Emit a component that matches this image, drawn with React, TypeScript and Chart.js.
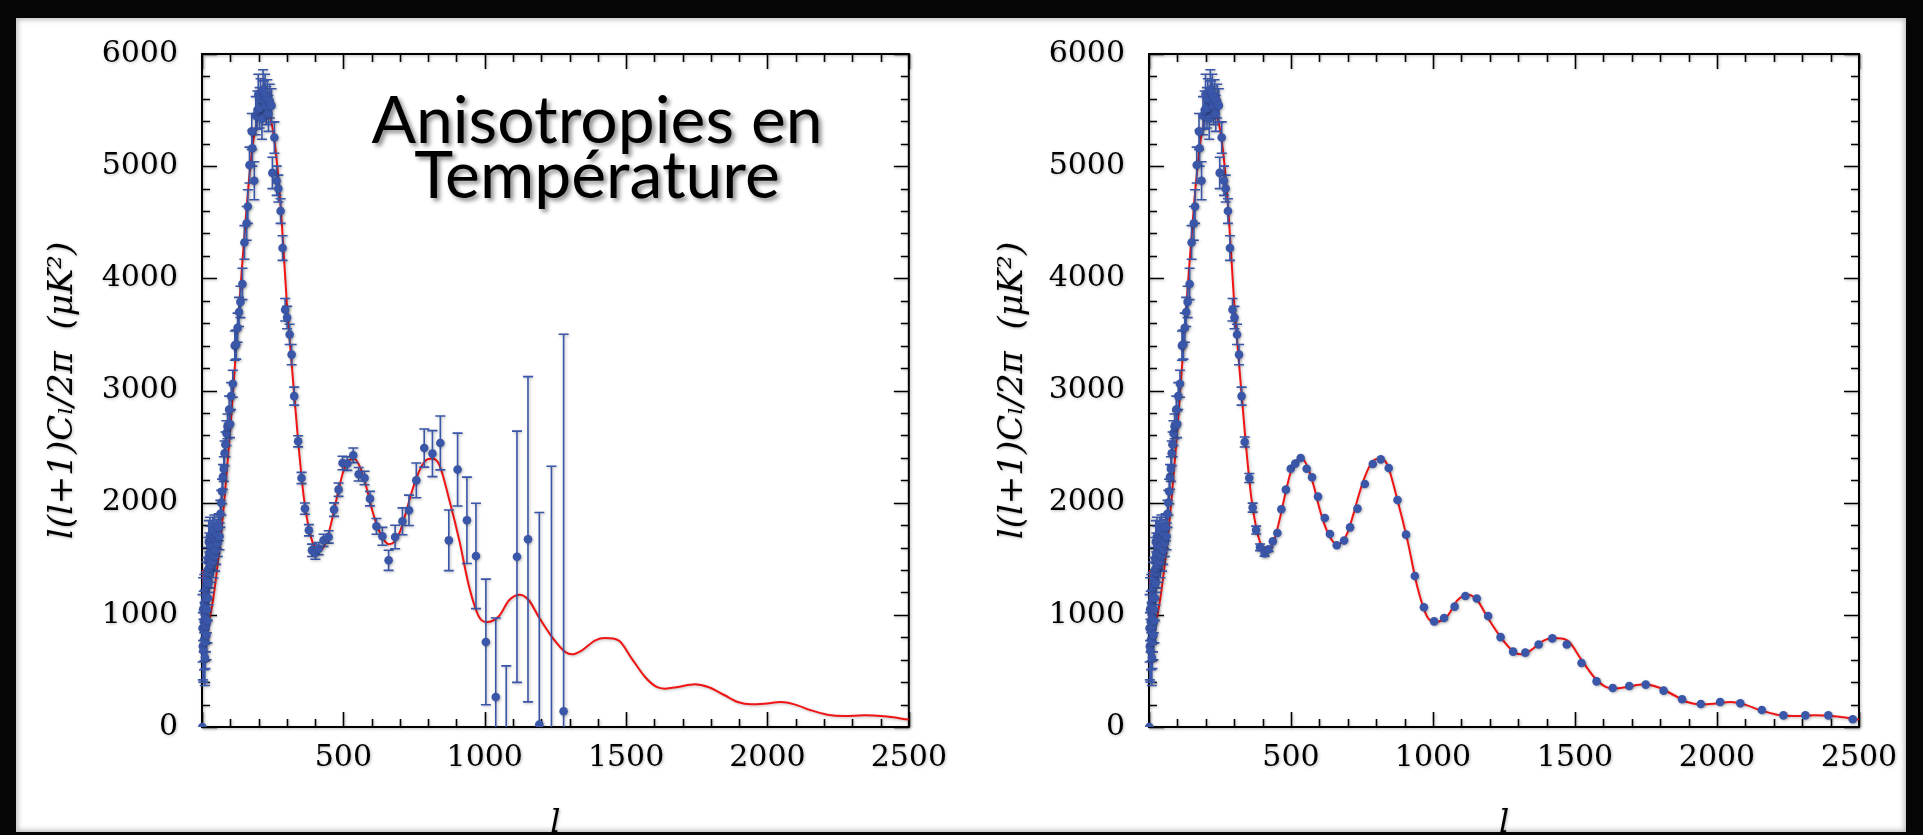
import React, { useEffect, useRef } from "react";
import { Chart, registerables } from "chart.js";

Chart.register(...registerables);

// ---------- axes ----------
const X_MIN = 0;
const X_MAX = 2500;
const Y_MIN = 0;
const Y_MAX = 6000;
const X_STEP = 100;
const Y_STEP = 200;
const X_LABEL_EVERY = 500;
const Y_LABEL_EVERY = 1000;

// ---------- texts ----------
const TITLE_LINES = ["Anisotropies en", "Température"];
const Y_TITLE = "l(l+1)Cₗ/2π  (μK²)";
const X_TITLE = "l";

// ---------- model curve (red) ----------
const MODEL_L = [2, 4, 8, 15, 25, 40, 60, 80, 100, 120, 140, 160, 180, 200, 220, 240, 260, 280, 300, 320, 340, 360, 380, 400, 420, 440, 460, 480, 500, 520, 540, 560, 580, 600, 620, 640, 660, 680, 700, 720, 740, 760, 780, 800, 815, 840, 875, 910, 945, 980, 1009, 1050, 1086, 1123, 1156, 1191, 1238, 1285, 1309, 1344, 1391, 1426, 1473, 1520, 1567, 1608, 1637, 1684, 1743, 1790, 1849, 1895, 1942, 1989, 2048, 2095, 2154, 2212, 2271, 2342, 2412, 2500];
const MODEL_V = [1400, 1150, 980, 900, 950, 1150, 1550, 2050, 2650, 3350, 4050, 4700, 5200, 5450, 5520, 5450, 5150, 4580, 3780, 3150, 2550, 2050, 1750, 1600, 1580, 1660, 1850, 2080, 2280, 2380, 2390, 2310, 2150, 1950, 1790, 1680, 1630, 1650, 1740, 1900, 2080, 2230, 2340, 2390, 2393, 2333, 2021, 1664, 1248, 981, 936, 987, 1130, 1180, 1130, 981, 802, 669, 648, 684, 773, 793, 773, 610, 446, 357, 342, 357, 381, 357, 283, 223, 202, 208, 223, 202, 149, 110, 98, 104, 95, 66];

// ---------- low-l measurements (both panels) ----------
const LOW_L = [1, 2, 3, 4, 5, 6, 7, 8, 9, 10, 11, 12, 13, 14, 15, 16, 17, 18, 19, 20, 21, 22, 23, 24, 25, 26, 27, 28, 29, 30, 32, 34, 36, 38, 40, 42, 44, 46, 48, 50, 53, 56, 59, 62, 65, 68, 71, 74, 77, 80, 83, 86, 90, 96, 99, 103, 109, 116, 121, 126, 131, 136, 143, 150, 158, 162, 168, 176, 178, 185, 190, 196, 199, 204, 207, 212, 216, 219, 223, 227, 231, 235, 240, 246, 249, 256, 264, 270, 278, 285, 294, 301, 310, 317, 326];
const LOW_V = [0, 880, 720, 1050, 680, 940, 780, 1100, 850, 620, 980, 760, 1150, 900, 1250, 820, 1050, 1300, 950, 1400, 1150, 1500, 1280, 1650, 1380, 1550, 1420, 1700, 1500, 1620, 1450, 1680, 1550, 1720, 1480, 1620, 1750, 1530, 1680, 1580, 1720, 1640, 1780, 1700, 1900, 2000, 2100, 2230, 2300, 2440, 2520, 2620, 2680, 2830, 2700, 2950, 3060, 3400, 3410, 3560, 3700, 3790, 3950, 4320, 4490, 4640, 5010, 5310, 5160, 4870, 5450, 5500, 5640, 5520, 5600, 5420, 5680, 5590, 5650, 5540, 5610, 5470, 5580, 5540, 4940, 5255, 4870, 4800, 4600, 4270, 3720, 3650, 3500, 3320, 2950];
const LOW_E = [0, 300, 300, 280, 280, 270, 270, 260, 260, 250, 240, 240, 230, 230, 220, 220, 210, 210, 200, 200, 200, 190, 190, 190, 180, 180, 180, 170, 170, 170, 160, 160, 150, 150, 150, 140, 140, 140, 130, 130, 130, 120, 120, 120, 120, 110, 110, 110, 110, 110, 110, 110, 110, 120, 120, 120, 120, 130, 130, 130, 130, 140, 140, 150, 150, 150, 160, 160, 160, 170, 170, 170, 180, 180, 180, 180, 180, 170, 170, 170, 160, 160, 150, 150, 140, 140, 130, 120, 110, 110, 100, 100, 90, 90, 80];

// ---------- left panel: higher-l measurements ----------
const WMAP_L = [340, 352, 364, 378, 389, 401, 413, 430, 448, 467, 483, 497, 514, 535, 554, 575, 594, 617, 638, 660, 683, 709, 732, 758, 786, 815, 843, 873, 904, 937, 969, 1004, 1039, 1076, 1114, 1153, 1193, 1236, 1279];
const WMAP_V = [2547, 2220, 1947, 1754, 1575, 1551, 1590, 1664, 1694, 1938, 2116, 2354, 2348, 2422, 2253, 2220, 2036, 1789, 1700, 1486, 1694, 1834, 1932, 2199, 2487, 2437, 2532, 1664, 2295, 1843, 1525, 758, 267, -200, 1518, 1674, 22, -300, 141];
const WMAP_E = [50, 50, 50, 50, 55, 55, 55, 55, 55, 60, 60, 60, 60, 65, 60, 60, 65, 70, 80, 90, 105, 120, 135, 155, 170, 205, 240, 270, 325, 385, 470, 560, 705, 745, 1120, 1450, 1890, 2625, 3360];

// ---------- right panel: higher-l measurements ----------
const PLANCK_L = [337, 353, 365, 377, 391, 407, 421, 436, 452, 466, 482, 499, 515, 534, 555, 574, 595, 619, 637, 661, 687, 708, 734, 760, 788, 816, 844, 875, 905, 936, 968, 1004, 1039, 1076, 1114, 1154, 1194, 1238, 1282, 1325, 1372, 1420, 1471, 1523, 1576, 1633, 1691, 1749, 1812, 1877, 1943, 2011, 2082, 2158, 2234, 2311, 2392, 2478];
const PLANCK_V = [2541, 2220, 1956, 1756, 1602, 1548, 1584, 1655, 1730, 1941, 2116, 2303, 2348, 2398, 2303, 2226, 2054, 1863, 1720, 1620, 1662, 1780, 1947, 2166, 2345, 2386, 2309, 2024, 1715, 1346, 1067, 942, 972, 1073, 1168, 1145, 990, 801, 672, 663, 735, 790, 735, 571, 407, 348, 366, 378, 324, 247, 205, 223, 211, 152, 104, 104, 104, 69];
const PLANCK_E = [45, 40, 40, 35, 30, 25, 20, 0, 0, 0, 0, 0, 0, 0, 0, 0, 0, 0, 0, 0, 0, 0, 0, 0, 0, 0, 0, 0, 0, 0, 0, 0, 0, 0, 0, 0, 0, 0, 0, 0, 0, 0, 0, 0, 0, 0, 0, 0, 0, 0, 0, 0, 0, 0, 0, 0, 0, 0];

// ---------- styles ----------
const BLUE = "#3a56a8";
const RED = "#f01414";
const SERIF = "'DejaVu Serif', serif";

type Pt = { x: number; y: number };
const zip = (ls: number[], vs: number[]): Pt[] => ls.map((l, i) => ({ x: l, y: vs[i] }));

const shadowPlugin = {
  id: "softShadow",
  beforeDraw(chart: any) {
    const ctx = chart.ctx;
    ctx.shadowColor = "rgba(0,0,0,0.28)";
    ctx.shadowBlur = 3;
    ctx.shadowOffsetX = 1;
    ctx.shadowOffsetY = 1;
  },
  afterDraw(chart: any) {
    const ctx = chart.ctx;
    ctx.shadowColor = "rgba(0,0,0,0)";
    ctx.shadowBlur = 0;
    ctx.shadowOffsetX = 0;
    ctx.shadowOffsetY = 0;
  },
};

const framePlugin = {
  id: "frameTicks",
  beforeDatasetsDraw(chart: any) {
    const { ctx, chartArea: a, scales } = chart;
    const x = scales.x;
    const y = scales.y;
    ctx.save();
    ctx.strokeStyle = "#000";
    ctx.lineWidth = 1.6;
    ctx.beginPath();
    for (const t of x.ticks) {
      const px = Math.round(x.getPixelForValue(t.value)) + 0.5;
      const len = t.value % X_LABEL_EVERY === 0 ? 15 : 8;
      ctx.moveTo(px, a.bottom);
      ctx.lineTo(px, a.bottom - len);
      ctx.moveTo(px, a.top);
      ctx.lineTo(px, a.top + len);
    }
    for (const t of y.ticks) {
      const py = Math.round(y.getPixelForValue(t.value)) + 0.5;
      const len = t.value % Y_LABEL_EVERY === 0 ? 15 : 8;
      ctx.moveTo(a.left, py);
      ctx.lineTo(a.left + len, py);
      ctx.moveTo(a.right, py);
      ctx.lineTo(a.right - len, py);
    }
    ctx.stroke();
    ctx.lineWidth = 2;
    ctx.strokeRect(a.left, a.top, a.right - a.left, a.bottom - a.top);
    ctx.restore();
  },
};

const errorBarPlugin = {
  id: "errorBars",
  beforeDatasetDraw(chart: any, args: any) {
    const ds = chart.data.datasets[args.index];
    if (!ds.errors) return;
    const { ctx, chartArea: a, scales } = chart;
    const x = scales.x;
    const y = scales.y;
    ctx.save();
    ctx.beginPath();
    ctx.rect(a.left - 6, a.top, a.right - a.left + 12, a.bottom - a.top);
    ctx.clip();
    ctx.strokeStyle = BLUE;
    ctx.lineWidth = 1.6;
    ctx.beginPath();
    ds.data.forEach((p: Pt, i: number) => {
      const e = ds.errors[i];
      if (!e) return;
      const px = x.getPixelForValue(p.x);
      const y1 = y.getPixelForValue(p.y - e);
      const y2 = y.getPixelForValue(p.y + e);
      ctx.moveTo(px, y1);
      ctx.lineTo(px, y2);
      ctx.moveTo(px - 5, y1);
      ctx.lineTo(px + 5, y1);
      ctx.moveTo(px - 5, y2);
      ctx.lineTo(px + 5, y2);
    });
    ctx.stroke();
    ctx.restore();
  },
};

function buildConfig(pts: Pt[], errs: number[], yAxisWidth: number, rightPad: number, yTitlePad: number): any {
  return {
    type: "scatter",
    data: {
      datasets: [
        {
          label: "data",
          data: pts,
          errors: errs,
          showLine: false,
          pointRadius: 4.3,
          pointBackgroundColor: BLUE,
          pointBorderWidth: 0,
          order: 1,
          clip: { left: 6, right: 6, top: 6, bottom: 0 },
        },
        {
          label: "model",
          data: zip(MODEL_L, MODEL_V),
          showLine: true,
          borderColor: RED,
          borderWidth: 2,
          pointRadius: 0,
          cubicInterpolationMode: "monotone",
          order: 2,
        },
      ],
    },
    options: {
      animation: false,
      responsive: false,
      maintainAspectRatio: false,
      events: [],
      layout: { padding: { left: 0, top: 54, right: rightPad, bottom: 0 } },
      plugins: { legend: { display: false }, tooltip: { enabled: false }, title: { display: false } },
      scales: {
        x: {
          type: "linear",
          position: "bottom",
          min: X_MIN,
          max: X_MAX,
          grid: { display: false, drawTicks: false },
          border: { display: false },
          ticks: {
            stepSize: X_STEP,
            autoSkip: false,
            maxRotation: 0,
            minRotation: 0,
            padding: 13,
            color: "#000",
            font: { family: SERIF, size: 30 },
            callback: (v: number) => (v % X_LABEL_EVERY === 0 && v !== 0 ? String(v) : ""),
          },
          title: {
            display: true,
            text: X_TITLE,
            color: "#000",
            font: { family: SERIF, size: 32, style: "italic", lineHeight: 0.7 },
            padding: { top: 0, bottom: 0 },
          },
          afterFit: (s: any) => {
            s.height = 108;
          },
        },
        y: {
          type: "linear",
          min: Y_MIN,
          max: Y_MAX,
          grid: { display: false, drawTicks: false },
          border: { display: false },
          ticks: {
            stepSize: Y_STEP,
            autoSkip: false,
            padding: 24,
            color: "#000",
            font: { family: SERIF, size: 30 },
            callback: (v: number) => (v % Y_LABEL_EVERY === 0 ? String(v) : ""),
          },
          title: {
            display: true,
            text: Y_TITLE,
            color: "#000",
            font: { family: SERIF, size: 34, style: "italic", lineHeight: 1.2 },
            padding: { top: yTitlePad, bottom: 0 },
          },
          afterFit: (s: any) => {
            s.width = yAxisWidth;
          },
        },
      },
    },
    plugins: [shadowPlugin, framePlugin, errorBarPlugin],
  };
}

function Panel(props: { left: number; width: number; pts: Pt[]; errs: number[]; yAxisWidth: number; rightPad: number; yTitlePad: number }) {
  const ref = useRef<HTMLCanvasElement | null>(null);
  useEffect(() => {
    if (!ref.current) return;
    const chart = new Chart(ref.current, buildConfig(props.pts, props.errs, props.yAxisWidth, props.rightPad, props.yTitlePad));
    return () => chart.destroy();
  }, []);
  return (
    <canvas
      ref={ref}
      width={props.width}
      height={835}
      style={{ position: "absolute", left: props.left, top: 0, width: props.width, height: 835 }}
    />
  );
}

export default function App() {
  const leftPts = zip(LOW_L, LOW_V).concat(zip(WMAP_L, WMAP_V));
  const leftErr = LOW_E.concat(WMAP_E);
  const rightPts = zip(LOW_L, LOW_V).concat(zip(PLANCK_L, PLANCK_V));
  const rightErr = LOW_E.concat(PLANCK_E);
  return (
    <div style={{ position: "fixed", left: 0, top: 0, width: 1923, height: 835, background: "#050505", overflow: "hidden" }}>
      <div
        style={{
          position: "absolute",
          left: 16,
          top: 18,
          width: 1890,
          height: 814,
          background: "#fff",
          boxShadow: "inset 0 0 5px 2px rgba(140,140,140,0.55)",
        }}
      />
      <Panel left={0} width={960} pts={leftPts} errs={leftErr} yAxisWidth={202} rightPad={48} yTitlePad={43} />
      <Panel left={960} width={963} pts={rightPts} errs={rightErr} yAxisWidth={189} rightPad={64} yTitlePad={33} />
      <div
        style={{
          position: "absolute",
          left: 297,
          top: 90,
          width: 600,
          textAlign: "center",
          fontFamily: "Lato, 'Open Sans', sans-serif",
          fontSize: 66,
          lineHeight: "55px",
          color: "#000",
          textShadow: "3px 3px 4px rgba(0,0,0,0.45)",
          whiteSpace: "nowrap",
        }}
      >
        {TITLE_LINES[0]}
        <br />
        {TITLE_LINES[1]}
      </div>
    </div>
  );
}
